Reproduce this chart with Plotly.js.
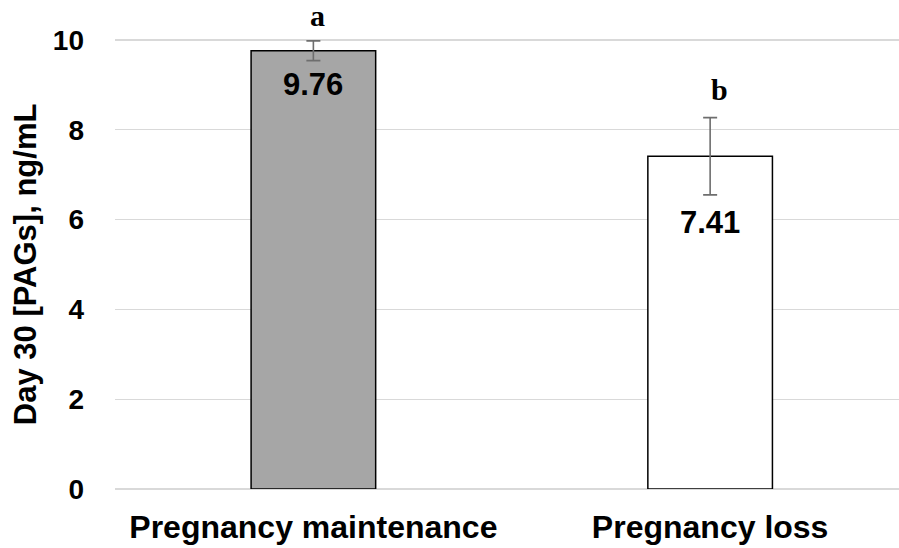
<!DOCTYPE html>
<html>
<head>
<meta charset="utf-8">
<script src="https://cdn.plot.ly/plotly-3.0.1.min.js"></script>
<style>html,body{margin:0;padding:0;background:#fff;}#chart{width:899px;height:548px;}</style>
</head>
<body>
<div id="chart"></div>
<script>
const categories = ["Pregnancy maintenance", "Pregnancy loss"];
const values = [9.76, 7.41];
const errors = [0.22, 0.86];
const letters = ["a", "b"];
const yTicks = [0, 2, 4, 6, 8, 10];

const SANS = "Liberation Sans, Arial, sans-serif";
const SERIF = "Liberation Serif, Times New Roman, serif";

const trace = {
  type: "bar",
  x: categories,
  y: values,
  width: 0.314,
  marker: {
    color: ["#a6a6a6", "#ffffff"],
    line: {color: "#000000", width: 1.5}
  },
  error_y: {
    type: "data",
    array: errors,
    visible: true,
    color: "#6e6e6e",
    thickness: 1.6,
    width: 7
  },
  hoverinfo: "none",
  showlegend: false
};

const annotations = [];
const letterShift = [4, 9];
const letterYShift = [7, 10];
const labelShift = [-24, -28];
categories.forEach((c, i) => {
  annotations.push({
    x: c, y: values[i] + errors[i], xref: "x", yref: "y",
    text: "<b>" + letters[i] + "</b>", showarrow: false,
    yanchor: "bottom", xanchor: "center", xshift: letterShift[i], yshift: letterYShift[i],
    font: {family: SERIF, size: 30, color: "#000"}
  });
  annotations.push({
    x: c, y: values[i] - errors[i], xref: "x", yref: "y",
    text: "<b>" + values[i].toFixed(2) + "</b>", showarrow: false,
    yanchor: "middle", xanchor: "center", yshift: labelShift[i],
    font: {family: SANS, size: 31, color: "#000"}
  });
});
const L = 115, R = 0, T = 22, B = 59.3, W = 899, H = 548;
annotations.push({
  x: (25 - L) / (W - L - R), y: (H - B - 264) / (H - T - B),
  xref: "paper", yref: "paper",
  text: "<b>Day 30 [PAGs], ng/mL</b>", showarrow: false, textangle: -90,
  xanchor: "center", yanchor: "middle",
  font: {family: SANS, size: 31, color: "#000"}
});

const layout = {
  width: W, height: H,
  margin: {l: L, r: R, t: T, b: B, pad: 0},
  paper_bgcolor: "#ffffff",
  plot_bgcolor: "#ffffff",
  xaxis: {
    type: "category",
    range: [-0.5, 1.476],
    showgrid: false, zeroline: false, showline: false,
    ticks: "",
    ticklabelstandoff: 16,
    tickfont: {family: SANS, size: 32, color: "#000", weight: "bold"}
  },
  yaxis: {
    range: [0, 10.4],
    tickvals: yTicks,
    ticktext: yTicks.map(String),
    showgrid: true, gridcolor: "#d9d9d9", gridwidth: 1.3,
    zeroline: true, zerolinecolor: "#d9d9d9", zerolinewidth: 1.3,
    showline: false, ticks: "",
    ticklabelstandoff: 30,
    tickfont: {family: SANS, size: 28, color: "#000", weight: "bold"}
  },
  annotations: annotations,
  bargap: 0
};

Plotly.newPlot("chart", [trace], layout, {displayModeBar: false, staticPlot: true});
</script>
</body>
</html>
